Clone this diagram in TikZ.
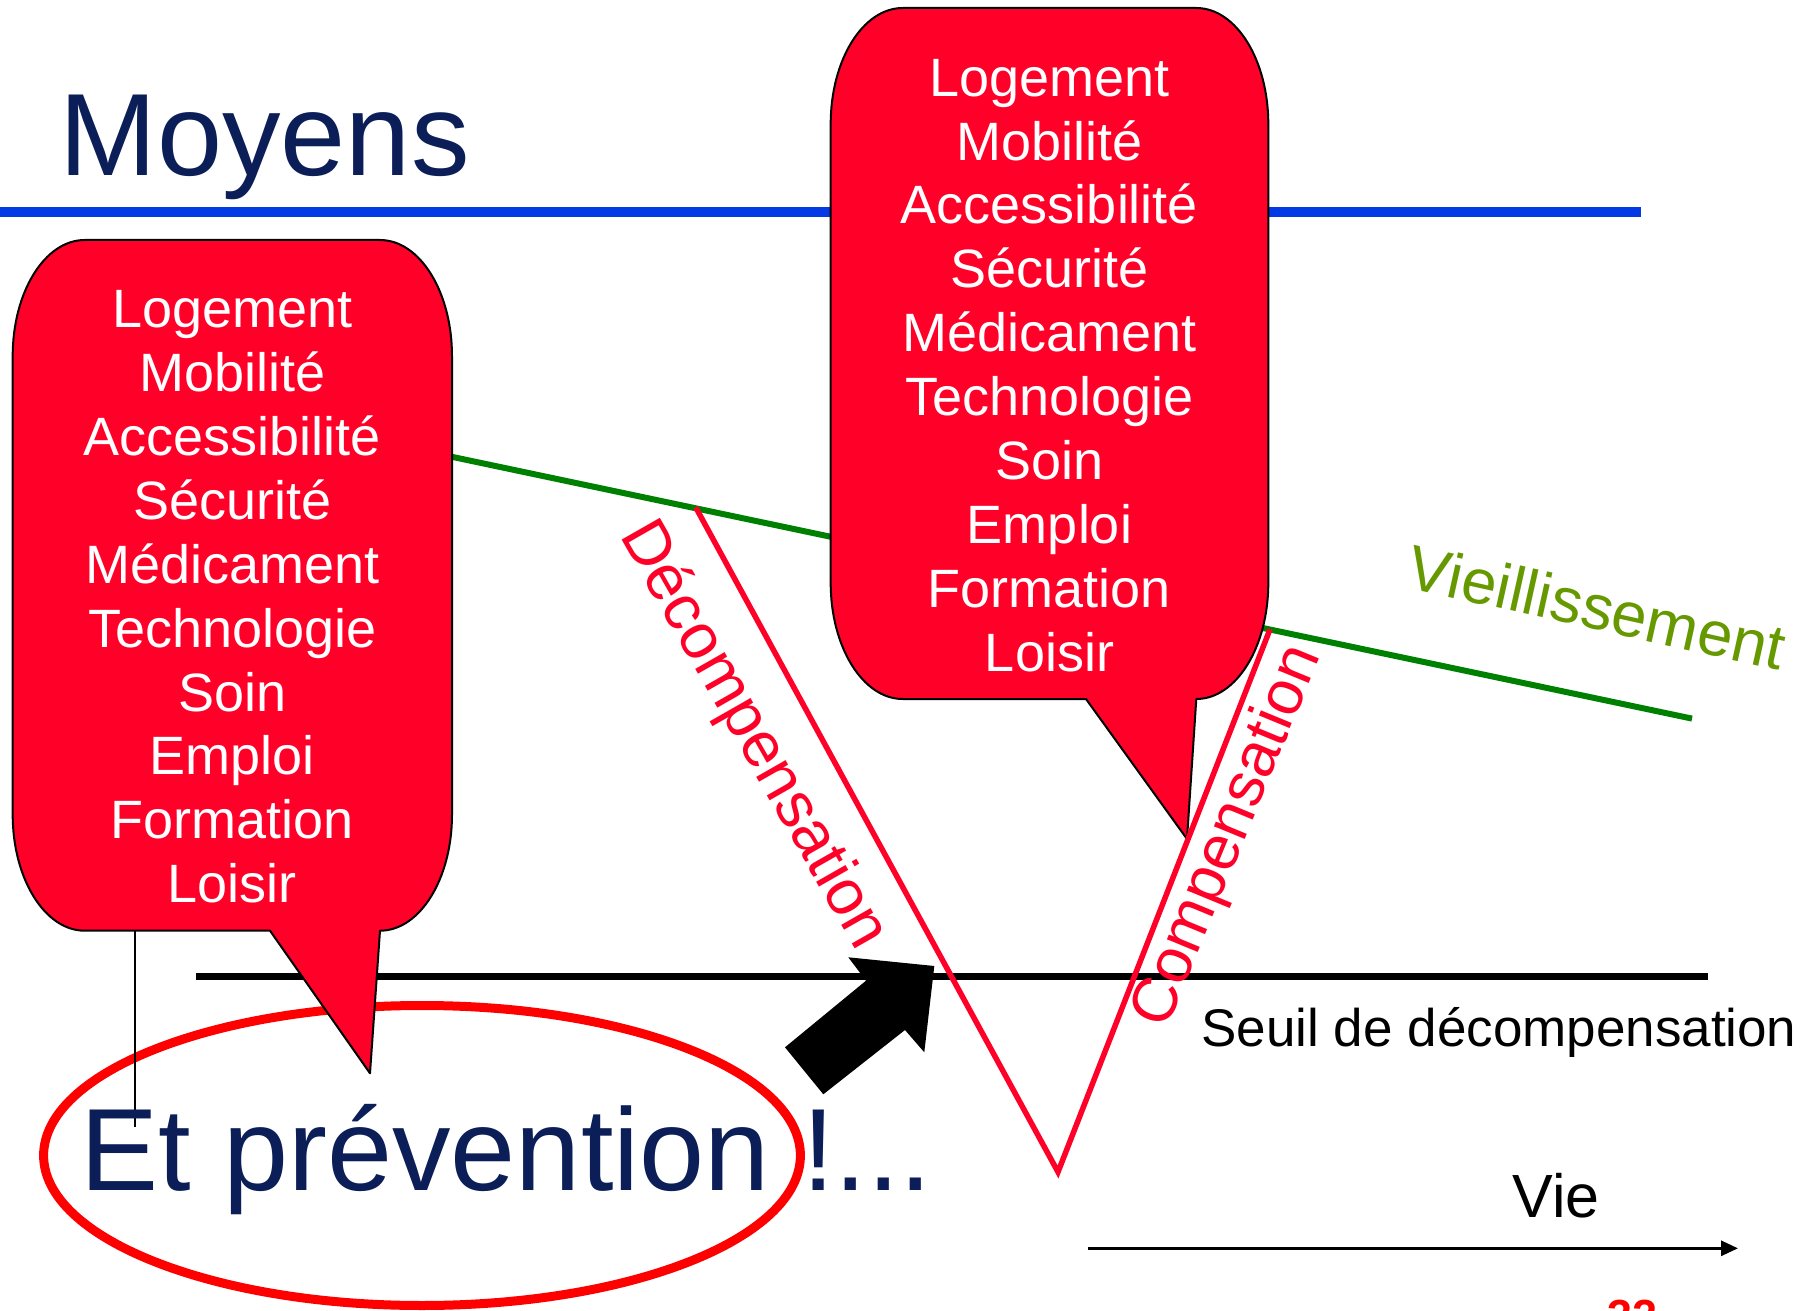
\documentclass[tikz,border=0pt]{standalone}
\usepackage{fontspec}
\setmainfont{Liberation Sans}
\usetikzlibrary{arrows.meta}
\definecolor{navy}{RGB}{12,30,88}
\definecolor{bluebar}{RGB}{4,58,228}
\definecolor{calred}{RGB}{255,0,41}
\definecolor{agegreen}{RGB}{0,128,0}
\definecolor{olive}{RGB}{102,153,0}
\definecolor{ellred}{RGB}{255,0,0}
\tikzset{
  calloutbox/.style={fill=calred, draw=black, line width=1pt, line join=round},
  listtxt/.style={text=white, inner sep=0pt, anchor=base, font=\fontsize{27}{32}\selectfont},
  bigtitle/.style={text=navy, inner sep=0pt, anchor=base west, font=\fontsize{58.5}{70}\selectfont},
  vline/.style={draw=calred, line width=2.75pt, line join=miter},
  redlabel/.style={text=calred, inner sep=0pt, anchor=base, font=\fontsize{32}{38}\selectfont},
}
\begin{document}
\begin{tikzpicture}[x=0.5pt,y=-0.5pt]
\useasboundingbox (0,0) rectangle (1812,1311);
\clip (0,0) rectangle (1812,1311);
\fill[white] (0,0) rectangle (1812,1311);

% coordinates
\coordinate (b1) at (0,212);
\coordinate (b2) at (1641,212);
\coordinate (g1) at (440,454.3);
\coordinate (g2) at (1692,718.6);
\coordinate (s1) at (196,976.7);
\coordinate (s2) at (1708,976.7);
\coordinate (dtop) at (695.7,507.3);
\coordinate (vbot) at (1058,1172);
\coordinate (ctop) at (1270,629.3);
\coordinate (tl1) at (135,930.7);
\coordinate (tl2) at (135,1126.7);
\coordinate (v1) at (1088,1248.3);
\coordinate (v2) at (1738,1248.3);

% blue bar
\draw[bluebar, line width=5pt] (b1) -- (b2);
% green ageing line
\draw[agegreen, line width=3pt] (g1) -- (g2);
% threshold line
\draw[black, line width=3.5pt] (s1) -- (s2);
% red ellipse
\draw[ellred, line width=4.5pt] (422,1155.5) ellipse [x radius=378.4, y radius=150];

% left callout
\path[calloutbox] (84.7,240) -- (380,240)
  .. controls (419.8,240) and (452,291.9) .. (452,356) -- (452,814.7)
  .. controls (452,878.8) and (419.8,930.7) .. (380,930.7)
  -- (370,1073.3) -- (270,930.7) -- (84.7,930.7)
  .. controls (44.9,930.7) and (12.7,878.8) .. (12.7,814.7) -- (12.7,356)
  .. controls (12.7,291.9) and (44.9,240) .. (84.7,240) -- cycle;
% right callout
\path[calloutbox] (902.7,8) -- (1196.3,8)
  .. controls (1236.1,8) and (1268.3,59.9) .. (1268.3,124) -- (1268.3,583)
  .. controls (1268.3,647.1) and (1236.1,699) .. (1196.3,699)
  -- (1187,839) -- (1086,699) -- (902.7,699)
  .. controls (862.9,699) and (830.7,647.1) .. (830.7,583) -- (830.7,124)
  .. controls (830.7,59.9) and (862.9,8) .. (902.7,8) -- cycle;

\foreach \w [count=\i] in {Logement,Mobilité,Accessibilité,Sécurité,Médicament,Technologie,Soin,Emploi,Formation,Loisir}{
  \node[listtxt] (la\i) at (232.4,{327.6+63.9*(\i-1)}) {\w};
  \node[listtxt] (lb\i) at (1049.5,{96.2+63.9*(\i-1)}) {\w};
}

% thin vertical line
\draw[black, line width=1pt] (tl1) -- (tl2);

% red V
\draw[vline] (dtop) -- (vbot) -- (ctop);

% big black arrow
\fill[black] (785,1047.3) -- (866,980.7) -- (848.3,957.3) -- (934.3,966)
  -- (924.3,1052.3) -- (905,1030) -- (823.3,1094.3) -- cycle;

% texts
\node[bigtitle] (moyens) at (59.5,176) {Moyens};
\node[bigtitle] (prev) at (80,1190.6) {Et prévention !...};
\node[redlabel, rotate=-60.3] (decomp) at (738,744) {Décompensation};
\node[redlabel, rotate=67.6, font=\fontsize{31.5}{38}\selectfont] (comp) at (1243.5,843) {Compensation};
\node[text=olive, inner sep=0pt, anchor=base west, rotate=-12.5, font=\fontsize{31.5}{38}\selectfont] (vieil) at (1404.5,587.2) {Vieillissement};
\node[text=black, inner sep=0pt, anchor=base west, font=\fontsize{26.5}{32}\selectfont] (seuil) at (1201,1046) {Seuil de décompensation};
\node[text=black, inner sep=0pt, anchor=base west, font=\fontsize{30.5}{36}\selectfont] (vie) at (1512,1217.8) {Vie};
\node[text=ellred, inner sep=0pt, anchor=base west, font=\bfseries\fontsize{22.5}{27}\selectfont] (pagenum) at (1607,1331) {32};

% life arrow
\draw[black, line width=1.5pt, -{Triangle[length=8.5pt,width=7.5pt]}] (v1) -- (v2);
\end{tikzpicture}
\end{document}
